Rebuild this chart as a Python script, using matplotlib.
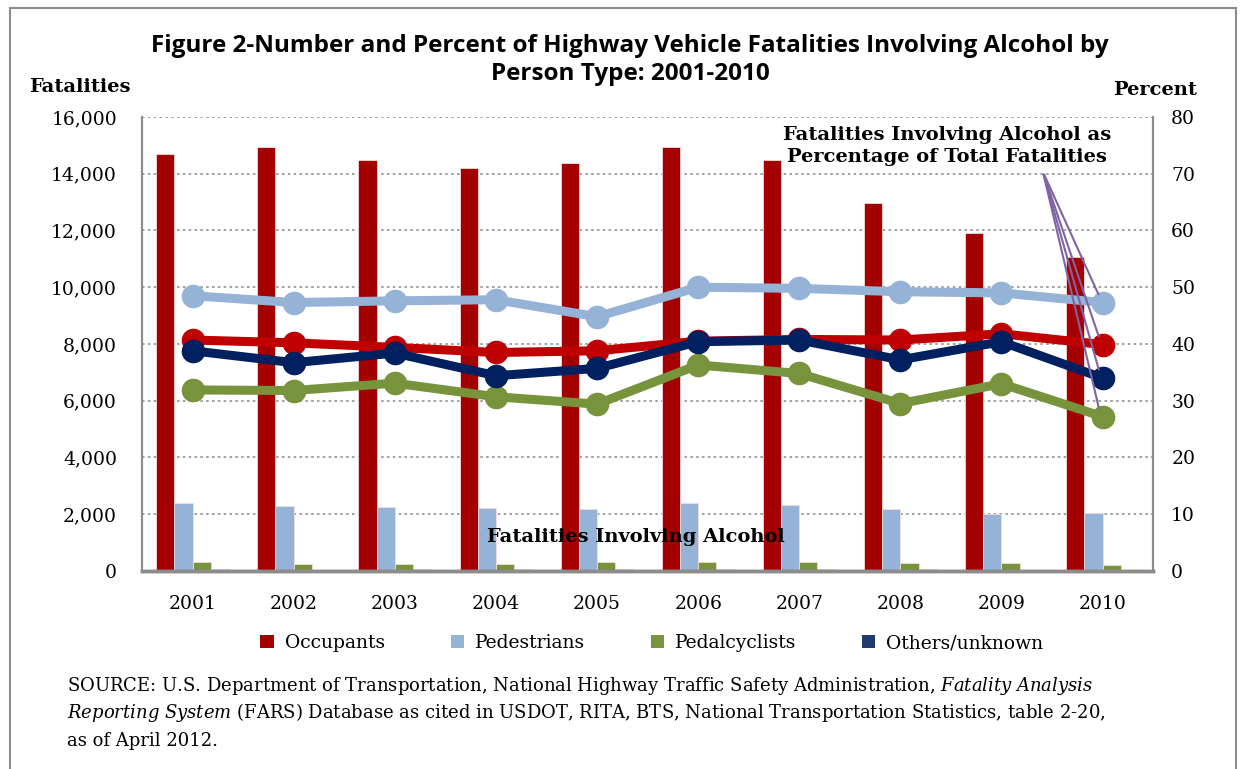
import numpy as np
import matplotlib.pyplot as plt
from matplotlib.patches import Rectangle, Patch

years = ['2001', '2002', '2003', '2004', '2005', '2006', '2007', '2008', '2009', '2010']
series = ['Occupants', 'Pedestrians', 'Pedalcyclists', 'Others/unknown']

# number of fatalities involving alcohol
occupants = [14700, 14940, 14480, 14200, 14380, 14940, 14480, 12970, 11910, 11070]
pedestrians = [2390, 2300, 2270, 2220, 2170, 2410, 2340, 2170, 2010, 2040]
pedalcyclists = [300, 260, 260, 260, 300, 320, 300, 280, 270, 220]
others = [70, 50, 60, 60, 60, 80, 70, 60, 50, 50]

# percent of total fatalities
occ_pct = [40.7, 40.2, 39.4, 38.5, 38.8, 40.5, 40.8, 40.7, 41.8, 39.9]
ped_pct = [48.5, 47.3, 47.6, 47.8, 44.8, 50.0, 49.8, 49.2, 49.0, 47.3]
cyc_pct = [31.9, 31.8, 33.1, 30.7, 29.4, 36.3, 34.8, 29.5, 33.0, 27.2]
oth_pct = [38.8, 36.7, 38.4, 34.4, 35.7, 40.4, 40.7, 37.2, 40.4, 34.0]

bar_colors = ['#A50000', '#95B3D7', '#77933C', '#1F3A6E']
line_colors = ['#C00000', '#95B3D7', '#77933C', '#002060']

serif = 'DejaVu Serif'
plt.rcParams['mathtext.fontset'] = 'dejavuserif'

fig = plt.figure(figsize=(12.48, 7.69), dpi=100)
ax = fig.add_axes([0.1138, 0.2575, 0.8102, 0.5904])
ax2 = ax.twinx()

x = np.arange(len(years))
w = 0.18
counts = [occupants, pedestrians, pedalcyclists, others]
for i, vals in enumerate(counts):
    ax.bar(x + (i - 1.5) * w, vals, w, color=bar_colors[i], edgecolor='#F2DCDB', linewidth=0.6, zorder=2)

ax.set_xlim(-0.5, 9.5)
ax.set_ylim(0, 16000)
ax.set_yticks(np.arange(0, 16001, 2000))
ax.set_yticklabels([f'{v:,}' for v in range(0, 16001, 2000)])
ax.set_xticks(x)
ax.set_xticklabels(years)
ax.yaxis.grid(True, linestyle=(0, (1.5, 2)), color='#909090', linewidth=1.2, zorder=0)
ax.set_axisbelow(True)
ax.tick_params(axis='y', length=0, labelsize=13.5, pad=18)
ax.tick_params(axis='x', length=0, labelsize=13.5, pad=17)
for lbl in ax.get_xticklabels() + ax.get_yticklabels():
    lbl.set_family(serif)

ax2.set_ylim(0, 80)
ax2.set_yticks(range(0, 81, 10))
ax2.tick_params(length=0, labelsize=13.5, pad=13)
for lbl in ax2.get_yticklabels():
    lbl.set_family(serif)

for a in (ax, ax2):
    a.spines['top'].set_visible(False)
    a.spines['left'].set_color('#8C8C8C')
    a.spines['right'].set_color('#8C8C8C')
    a.spines['bottom'].set_color('#8C8C8C')
    a.spines['left'].set_linewidth(1.5)
    a.spines['right'].set_linewidth(1.5)
    a.spines['bottom'].set_linewidth(2.5)

pcts = [occ_pct, ped_pct, cyc_pct, oth_pct]
for i, vals in enumerate(pcts):
    ax2.plot(x, vals, color=line_colors[i], linewidth=6.5, marker='o', markersize=16, zorder=3)

# annotation leader lines
for i, vals in enumerate(pcts):
    ax2.annotate('', xy=(x[-1] - 0.03, vals[-1] + 1.0), xycoords='data',
                 xytext=(1043 / 1248, (769 - 172) / 769), textcoords='figure fraction',
                 arrowprops=dict(arrowstyle='-', color='#8064A2', linewidth=1.5))

fig.text(947 / 1248, (769 - 146) / 769, 'Fatalities Involving Alcohol as\nPercentage of Total Fatalities',
         ha='center', va='center', fontsize=14, fontweight='bold', family=serif, linespacing=1.35)
ax.text(4.38, 1200, 'Fatalities Involving Alcohol', ha='center', va='center',
        fontsize=14, fontweight='bold', family=serif, zorder=5)

fig.text(0.505, (769 - 60) / 769, 'Figure 2-Number and Percent of Highway Vehicle Fatalities Involving Alcohol by\nPerson Type: 2001-2010',
         ha='center', va='center', fontsize=17.5, fontweight='bold', family='Open Sans', linespacing=1.2)
fig.text(80 / 1248, (769 - 87) / 769, 'Fatalities', ha='center', va='center',
         fontsize=14, fontweight='bold', family=serif)
fig.text(1155 / 1248, (769 - 90) / 769, 'Percent', ha='center', va='center',
         fontsize=14, fontweight='bold', family=serif)

handles = [Patch(facecolor=c) for c in bar_colors]
fig.legend(handles, series, loc='center', bbox_to_anchor=(652 / 1248, (769 - 643) / 769), ncol=4,
           frameon=False, prop={'family': serif, 'size': 13.5}, handlelength=0.7, handleheight=0.7,
           columnspacing=3.5, handletextpad=0.6)

fig.text(67 / 1248, (769 - 686) / 769,
         'SOURCE: U.S. Department of Transportation, National Highway Traffic Safety Administration, $\\it{Fatality\\ Analysis}$',
         ha='left', va='center', fontsize=13, family=serif)
fig.text(67 / 1248, (769 - 713) / 769,
         '$\\it{Reporting\\ System}$ (FARS) Database as cited in USDOT, RITA, BTS, National Transportation Statistics, table 2-20,',
         ha='left', va='center', fontsize=13, family=serif)
fig.text(67 / 1248, (769 - 741) / 769, 'as of April 2012.',
         ha='left', va='center', fontsize=13, family=serif)

fig.patches.append(Rectangle((10 / 1248, -0.05), 1226 / 1248, 1.05 - 8 / 769, transform=fig.transFigure,
                             fill=False, edgecolor='#8C8C8C', linewidth=1.5))

fig.savefig('out.png', dpi=100)
